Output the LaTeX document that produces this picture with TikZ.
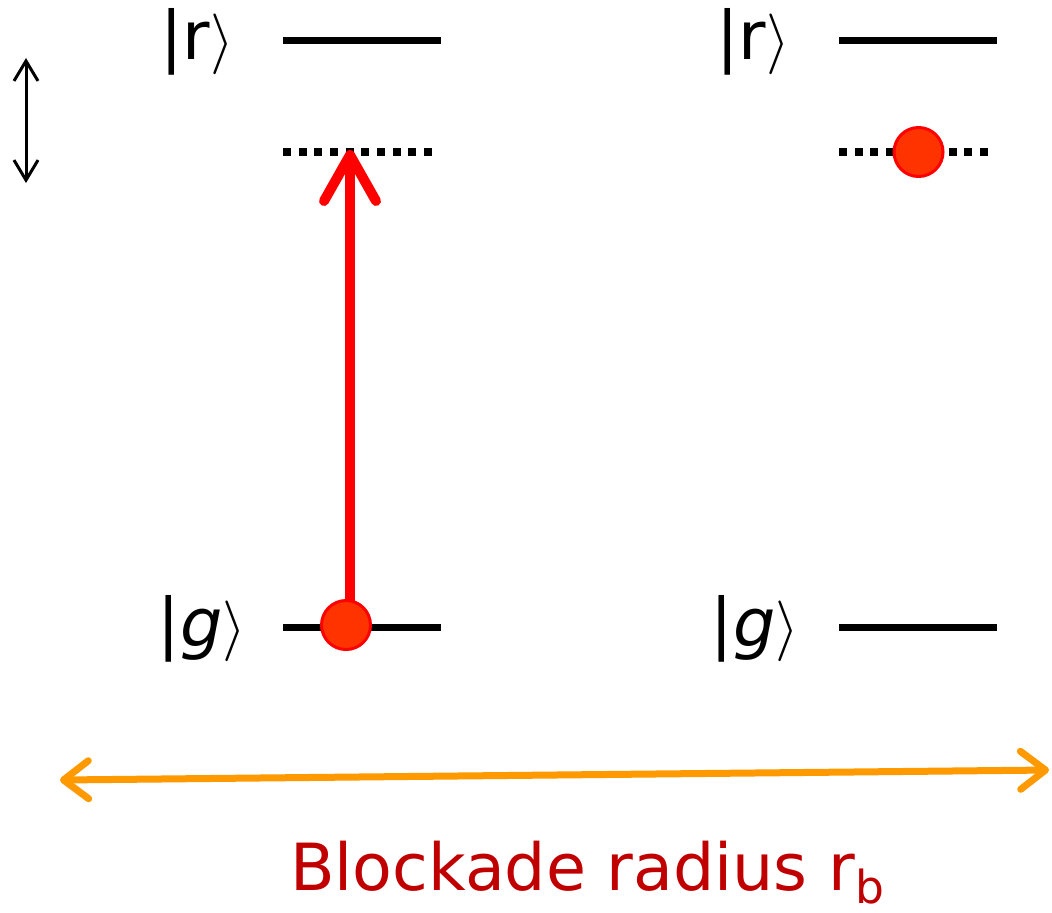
\documentclass[tikz,border=0pt]{standalone}
\usepackage{fontspec}
\setmainfont{DejaVu Sans}
\usetikzlibrary{arrows.meta, positioning}

\definecolor{atomred}{HTML}{FF3300}
\definecolor{blockorange}{HTML}{FF9900}
\definecolor{textred}{HTML}{C00000}

\begin{document}
\begin{tikzpicture}[
    level/.style={line width=0.07cm},
    virtual/.style={line width=0.08cm, dash pattern=on 0.08cm off 0.0767cm},
    ket/.style={font=\fontsize{19}{22}\selectfont, inner sep=0pt},
    atom/.style={circle, fill=atomred, draw=red, line width=0.03cm,
                 minimum size=0.49cm, inner sep=0pt},
    laser/.style={-{Straight Barb[length=0.46cm, width=0.52cm, round]}, red, line width=0.1cm},
    detuning/.style={{Straight Barb[length=0.2cm, width=0.24cm]}-{Straight Barb[length=0.2cm, width=0.24cm]},
                     line width=0.03cm},
    radius/.style={{Straight Barb[length=0.25cm, width=0.38cm, round]}-{Straight Barb[length=0.25cm, width=0.38cm, round]},
                   blockorange, line width=0.07cm},
]
\useasboundingbox (0,0) rectangle (10.52,-9.12);

% Atom 1 levels
\node[ket] (r1) at (1.97,-0.42) {|r$\rangle$};
\node[ket] (g1) at (2.02,-6.29) {|\textit{g}$\rangle$};
\draw[level] (2.83,-0.40) -- (4.41,-0.40);
\draw[virtual] (2.83,-1.52) -- (4.33,-1.52);
\draw[level] (2.83,-6.27) -- (4.41,-6.27);

% Atom 2 levels
\node[ket] (r2) at (7.53,-0.42) {|r$\rangle$};
\node[ket] (g2) at (7.55,-6.29) {|\textit{g}$\rangle$};
\draw[level] (8.39,-0.40) -- (9.97,-0.40);
\draw[virtual] (8.39,-1.52) -- (9.90,-1.52);
\draw[level] (8.39,-6.27) -- (9.97,-6.27);

% Atoms and excitation
\coordinate (vtip) at (3.50,-1.50);
\draw[laser] (vtip |- 0,-6.10) -- (vtip);
\node[atom] (gatom) at (3.46,-6.25) {};
\node[atom] (ratom) at (9.185,-1.52) {};

% Detuning
\coordinate (dtop) at (0.26,-0.58);
\coordinate (dbot) at (0.26,-1.83);
\draw[detuning] (dtop) -- (dbot);

% Blockade radius
\coordinate (bleft) at (0.60,-7.80);
\coordinate (bright) at (10.49,-7.70);
\draw[radius] (bleft) -- (bright);
\node[font=\fontsize{18.5}{22}\selectfont, text=textred, anchor=base] (rb) at (5.88,-8.90)
    {Blockade radius r\textsubscript{b}};

\end{tikzpicture}
\end{document}
